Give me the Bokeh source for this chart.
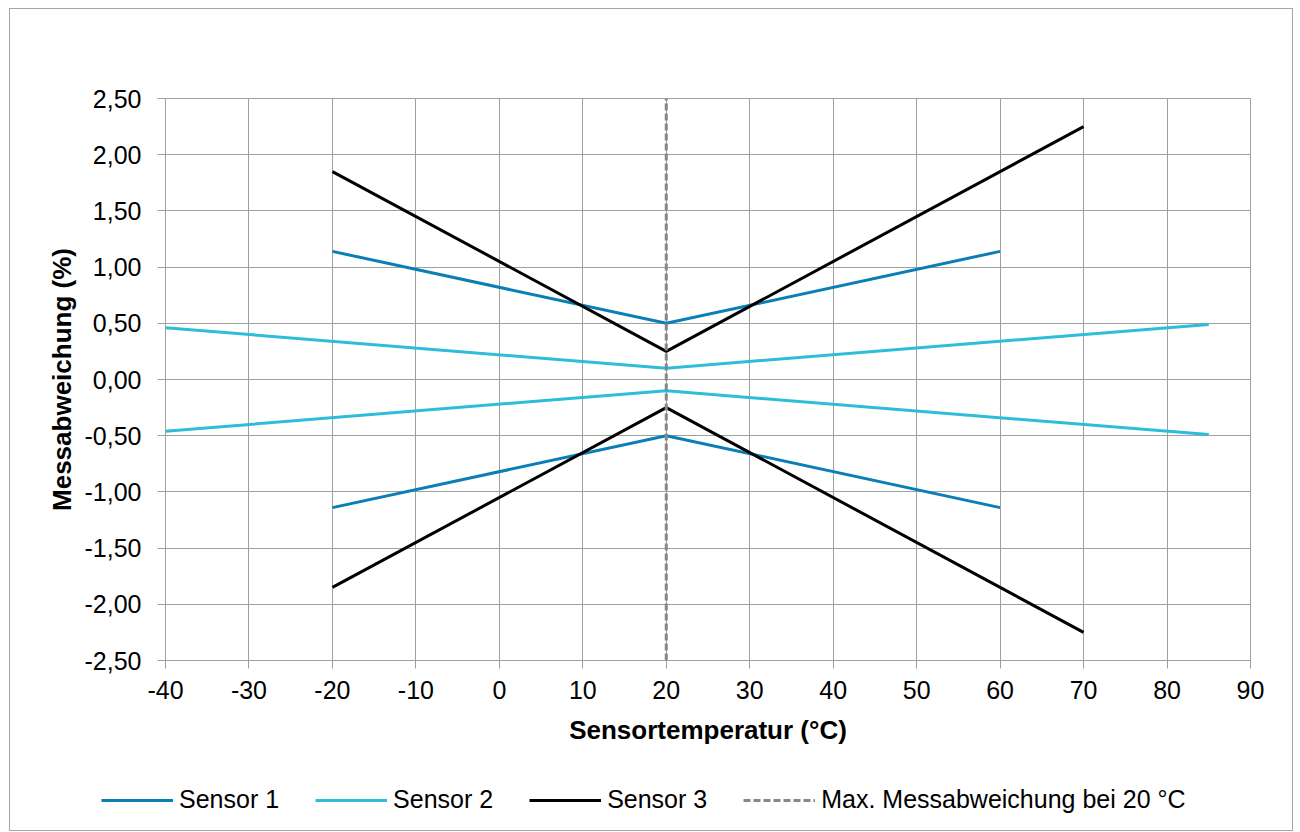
from bokeh.plotting import figure
from bokeh.layouts import column
from bokeh.models import Legend, LegendItem, FixedTicker, CustomJSTickFormatter, Range1d
from bokeh.embed import file_html
from bokeh.resources import INLINE

# Data
s1_temp = [-20, 20, 60]
s1_upper = [1.14, 0.50, 1.14]
s1_lower = [-1.14, -0.50, -1.14]

s2_temp = [-40, 20, 85]
s2_upper = [0.46, 0.10, 0.49]
s2_lower = [-0.46, -0.10, -0.49]

s3_temp = [-20, 20, 70]
s3_upper = [1.85, 0.25, 2.25]
s3_lower = [-1.85, -0.25, -2.25]

ref_temp = [20, 20]
ref_val = [-2.5, 2.5]

x_ticks = [-40, -30, -20, -10, 0, 10, 20, 30, 40, 50, 60, 70, 80, 90]
y_ticks = [-2.5, -2.0, -1.5, -1.0, -0.5, 0.0, 0.5, 1.0, 1.5, 2.0, 2.5]

series_names = ["Sensor 1", "Sensor 2", "Sensor 3", "Max. Messabweichung bei 20 °C"]

FONT = "Liberation Sans"
GRID = "#a0a0a0"
C1 = "#0a7fb6"
C2 = "#2dbdd9"
C3 = "#000000"
CREF = "#878787"
LW = 3
DASH = "7 3"

p = figure(width=1282, height=757, output_backend="svg", toolbar_location=None,
           x_range=(-40, 90), y_range=(-2.5, 2.5),
           min_border_left=155, min_border_right=42, min_border_top=89, min_border_bottom=106)
p.frame_align = False
p.background_fill_color = "white"
p.border_fill_color = "white"
p.outline_line_color = GRID
p.outline_line_width = 1

p.xaxis.ticker = FixedTicker(ticks=x_ticks)
p.yaxis.ticker = FixedTicker(ticks=y_ticks)
p.yaxis.formatter = CustomJSTickFormatter(code="return tick.toFixed(2).replace('.', ',');")
p.xaxis.formatter = CustomJSTickFormatter(code="return tick.toFixed(0);")

for ax in (p.xaxis, p.yaxis):
    ax.axis_line_color = GRID
    ax.major_tick_line_color = GRID
    ax.major_tick_in = 0
    ax.major_tick_out = 8
    ax.minor_tick_line_color = None
    ax.major_label_text_font = FONT
    ax.major_label_text_font_size = "25px"
    ax.major_label_text_color = "black"
    ax.axis_label_text_font = FONT
    ax.axis_label_text_font_size = "26px"
    ax.axis_label_text_font_style = "bold"
    ax.axis_label_text_color = "black"

p.xaxis.axis_label = "Sensortemperatur (°C)"
p.yaxis.axis_label = "Messabweichung (%)"
p.xaxis.major_label_standoff = 12
p.yaxis.major_label_standoff = 16
p.xaxis.axis_label_standoff = 13
p.yaxis.axis_label_standoff = 5

p.xgrid.grid_line_color = GRID
p.ygrid.grid_line_color = GRID

p.line(s1_temp, s1_upper, line_color=C1, line_width=LW)
p.line(s1_temp, s1_lower, line_color=C1, line_width=LW)
p.line(s2_temp, s2_upper, line_color=C2, line_width=LW)
p.line(s2_temp, s2_lower, line_color=C2, line_width=LW)
p.line(s3_temp, s3_upper, line_color=C3, line_width=LW)
p.line(s3_temp, s3_lower, line_color=C3, line_width=LW)
p.line(ref_temp, ref_val, line_color=CREF, line_width=LW, line_dash=DASH)

# Legend strip below the chart (its renderers lie outside its view; only the legend shows)
lf = figure(width=1282, height=64, output_backend="svg", toolbar_location=None,
            x_range=Range1d(1000, 1001), y_range=Range1d(1000, 1001),
            x_axis_location=None, y_axis_location=None,
            min_border_left=0, min_border_right=0, min_border_top=0, min_border_bottom=0)
lf.frame_align = False
lf.outline_line_color = None
lf.xgrid.grid_line_color = None
lf.ygrid.grid_line_color = None
lf.background_fill_color = "white"
lf.border_fill_color = "white"
g1 = lf.line(s1_temp, s1_upper, line_color=C1, line_width=LW)
g2 = lf.line(s2_temp, s2_upper, line_color=C2, line_width=LW)
g3 = lf.line(s3_temp, s3_upper, line_color=C3, line_width=LW)
g4 = lf.line(ref_temp, ref_val, line_color=CREF, line_width=LW, line_dash=DASH)

legend = Legend(items=[LegendItem(label=n, renderers=[r])
                       for n, r in zip(series_names, [g1, g2, g3, g4])],
                orientation="horizontal", location=(91, 16))
legend.label_text_font = FONT
legend.label_text_font_size = "25px"
legend.label_text_color = "black"
legend.glyph_width = 72
legend.label_standoff = 6
legend.spacing = 36
legend.padding = 6
legend.margin = 0
legend.border_line_color = None
legend.background_fill_alpha = 0
legend.click_policy = "none"
lf.add_layout(legend, "center")

layout = column(p, lf, spacing=0,
                styles={"border": "1px solid #a6a6a6", "margin-left": "9px", "margin-top": "8px"})

open("out.html", "w").write(file_html(layout, INLINE))
